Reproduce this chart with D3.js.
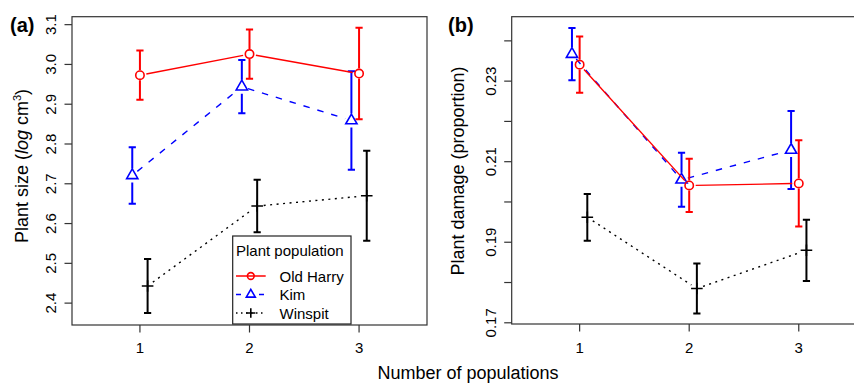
<!DOCTYPE html>
<html>
<head>
<meta charset="utf-8">
<script src="https://cdn.jsdelivr.net/npm/d3@7/dist/d3.min.js"></script>
<style>
  body { margin: 0; background: #fff; }
  svg { display: block; font-family: 'Liberation Sans', Arial, sans-serif; }
</style>
</head>
<body>
<div id="chart"></div>
<script>
// Data
let populations = [1, 2, 3]
let seriesNames = ['Old Harry', 'Kim', 'Winspit']

// (a) plant size: means and error bar half-widths
let sizeOldHarry = [2.973, 3.026, 2.977]
let sizeOldHarryErr = [0.062, 0.062, 0.115]
let sizeKim = [2.721, 2.944, 2.859]
let sizeKimErr = [0.071, 0.067, 0.124]
let sizeWinspit = [2.443, 2.644, 2.670]
let sizeWinspitErr = [0.068, 0.066, 0.113]
let sizeTicks = [2.4, 2.5, 2.6, 2.7, 2.8, 2.9, 3.0, 3.1]
let sizeTickLabels = ['2.4', '2.5', '2.6', '2.7', '2.8', '2.9', '3.0', '3.1']

// (b) plant damage: means and error bar half-widths
let damageOldHarry = [0.2341, 0.2041, 0.2046]
let damageOldHarryErr = [0.0070, 0.0066, 0.0107]
let damageKim = [0.2367, 0.2055, 0.2129]
let damageKimErr = [0.0065, 0.0067, 0.0097]
let damageWinspit = [0.1962, 0.1785, 0.1880]
let damageWinspitErr = [0.0058, 0.0062, 0.0076]
let damageTicks = [0.17, 0.18, 0.19, 0.20, 0.21, 0.22, 0.23, 0.24]
let damageTickLabels = ['0.17', '', '0.19', '', '0.21', '', '0.23', '']

// Series styles
let styles = {
    'Old Harry': { color: '#ff0000', dash: null, shape: 'circle', offset: 0, barGap: 5 },
    'Kim': { color: '#0000ff', dash: '6.5,8', shape: 'triangle', offset: -0.07, barGap: 7 },
    'Winspit': { color: '#000000', dash: '2,4.5', shape: 'plus', offset: 0.07, barGap: 0 }
}

let svgWidth = 854, svgHeight = 383
let svg = d3.select('#chart')
    .append('svg')
    .attr('width', svgWidth)
    .attr('height', svgHeight)

// marker shapes, scale k for the legend
drawMarker = (g, shape, color, x, y, k) => {
    if (shape === 'circle') {
        g.append('circle').attr('cx', x).attr('cy', y).attr('r', 4.2 * k)
            .attr('fill', 'none').attr('stroke', color).attr('stroke-width', 1.6)
    } else if (shape === 'triangle') {
        let r = 6.5 * k, xc = r * 0.866
        g.append('path')
            .attr('d', `M${x},${y - r}L${x + xc},${y + r / 2}L${x - xc},${y + r / 2}Z`)
            .attr('fill', 'none').attr('stroke', color).attr('stroke-width', 1.6)
    } else {
        let h = 5.8 * k
        g.append('path')
            .attr('d', `M${x - h},${y}H${x + h}M${x},${y - h}V${y + h}`)
            .attr('fill', 'none').attr('stroke', color).attr('stroke-width', 1.6)
    }
}

// Draw one panel
drawPanel = (p) => {
    let x = d3.scaleLinear().domain([0.38, 3.62]).range([p.left, p.left + 355])
    let y = d3.scaleLinear().domain(p.yDomain).range([p.bottom, p.top])
    let g = svg.append('g')

    // series: Winspit first, Old Harry on top
    let order = [2, 1, 0]
    order.forEach(i => {
        let name = seriesNames[i]
        let st = styles[name]
        let pts = populations.map((d, j) => ({
            x: x(d + st.offset), y: y(p.means[i][j]),
            lo: y(p.means[i][j] - p.errs[i][j]), hi: y(p.means[i][j] + p.errs[i][j])
        }))

        // connecting line with gaps at the points
        let lineGap = 6.5
        for (let j = 0; j < pts.length - 1; j++) {
            let a = pts[j], b = pts[j + 1]
            let dx = b.x - a.x, dy = b.y - a.y, len = Math.hypot(dx, dy)
            g.append('line')
                .attr('x1', a.x + dx * lineGap / len).attr('y1', a.y + dy * lineGap / len)
                .attr('x2', b.x - dx * lineGap / len).attr('y2', b.y - dy * lineGap / len)
                .attr('stroke', st.color)
                .attr('stroke-width', 1.4)
                .attr('stroke-dasharray', st.dash)
        }

        // error bars
        pts.forEach(d => {
            g.append('path')
                .attr('d', `M${d.x},${d.y - st.barGap}V${d.hi}M${d.x - 3.6},${d.hi}H${d.x + 3.6}` +
                    `M${d.x},${d.y + st.barGap}V${d.lo}M${d.x - 3.6},${d.lo}H${d.x + 3.6}`)
                .attr('fill', 'none')
                .attr('stroke', st.color)
                .attr('stroke-width', 2)
            drawMarker(g, st.shape, st.color, d.x, d.y, 1)
        })
    })

    // box
    g.append('rect')
        .attr('x', p.left).attr('y', p.top)
        .attr('width', 355).attr('height', p.bottom - p.top)
        .attr('fill', 'none').attr('stroke', '#333').attr('stroke-width', 1.2)

    // y ticks and labels
    p.ticks.forEach((t, i) => {
        g.append('line')
            .attr('x1', p.left).attr('x2', p.left - 7.5)
            .attr('y1', y(t)).attr('y2', y(t))
            .attr('stroke', '#333').attr('stroke-width', 1.2)
        if (p.tickLabels[i]) {
            g.append('text')
                .attr('transform', `translate(${p.left - 16},${y(t)}) rotate(-90)`)
                .attr('text-anchor', 'middle')
                .attr('font-size', 15)
                .text(p.tickLabels[i])
        }
    })

    // x ticks and labels
    populations.forEach(d => {
        g.append('line')
            .attr('x1', x(d)).attr('x2', x(d))
            .attr('y1', p.bottom).attr('y2', p.bottom + 7.5)
            .attr('stroke', '#333').attr('stroke-width', 1.2)
        g.append('text')
            .attr('x', x(d)).attr('y', 352.5)
            .attr('text-anchor', 'middle')
            .attr('font-size', 15)
            .text(d)
    })

    // panel letter
    g.append('text')
        .attr('x', p.letterX).attr('y', 32)
        .attr('font-size', 20)
        .attr('font-weight', 'bold')
        .text(p.label)

    // y title
    let yt = g.append('text')
        .attr('transform', `translate(${p.titleX},${p.titleY}) rotate(-90)`)
        .attr('text-anchor', 'middle')
        .attr('font-size', 18)
    p.title(yt)
}

drawPanel({
    label: '(a)', letterX: 10, left: 72, top: 16.7, bottom: 325,
    yDomain: [2.345, 3.12], ticks: sizeTicks, tickLabels: sizeTickLabels,
    means: [sizeOldHarry, sizeKim, sizeWinspit],
    errs: [sizeOldHarryErr, sizeKimErr, sizeWinspitErr],
    titleX: 28, titleY: 166,
    title: t => {
        t.append('tspan').text('Plant size (')
        t.append('tspan').attr('font-style', 'italic').text('log')
        t.append('tspan').text(' cm')
        t.append('tspan').attr('font-size', 11).attr('dy', -7).text('3')
        t.append('tspan').attr('dy', 7).text(')')
    }
})

drawPanel({
    label: '(b)', letterX: 448, left: 511.7, top: 16.7, bottom: 324,
    yDomain: [0.1697, 0.246], ticks: damageTicks, tickLabels: damageTickLabels,
    means: [damageOldHarry, damageKim, damageWinspit],
    errs: [damageOldHarryErr, damageKimErr, damageWinspitErr],
    titleX: 464, titleY: 171,
    title: t => t.text('Plant damage (proportion)')
})

// Legend in panel (a)
let lg = svg.append('g')
lg.append('rect')
    .attr('x', 232.7).attr('y', 236)
    .attr('width', 118.3).attr('height', 88)
    .attr('fill', '#fff').attr('stroke', '#222').attr('stroke-width', 1.2)
lg.append('text')
    .attr('x', 236).attr('y', 255.5)
    .attr('font-size', 15)
    .text('Plant population')
seriesNames.forEach((name, i) => {
    let st = styles[name]
    let cy = 276 + i * 18.5
    lg.append('line')
        .attr('x1', 236).attr('x2', 265.7)
        .attr('y1', cy).attr('y2', cy)
        .attr('stroke', st.color)
        .attr('stroke-width', 1.5)
        .attr('stroke-dasharray', name === 'Kim' ? '5,18,5' : name === 'Winspit' ? '1.5,3.5' : null)
    drawMarker(lg, st.shape, st.color, 250.8, cy, 0.8)
    lg.append('text')
        .attr('x', 279.5).attr('y', cy + 5.7)
        .attr('font-size', 15)
        .text(name)
})

// shared x title
svg.append('text')
    .attr('x', 468).attr('y', 378.5)
    .attr('text-anchor', 'middle')
    .attr('font-size', 18)
    .text('Number of populations')
</script>
</body>
</html>
